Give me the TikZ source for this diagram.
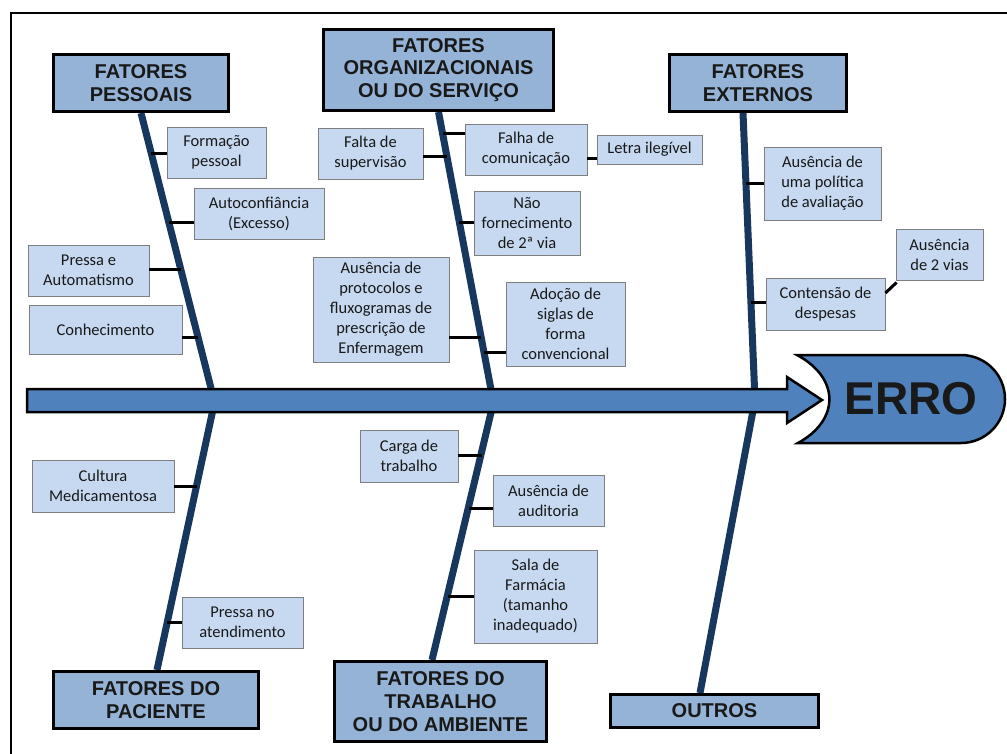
\documentclass[tikz,border=0pt]{standalone}
\usepackage{fontspec}
\newfontfamily\boxfont{Carlito}
\newfontfamily\hdrfont{Liberation Sans}
\usetikzlibrary{calc}
\definecolor{hdrblue}{HTML}{95B3D7}
\definecolor{boxblue}{HTML}{C6D9F1}
\definecolor{spineblue}{HTML}{4F81BD}
\definecolor{bonenavy}{HTML}{17375E}
\definecolor{boxgray}{HTML}{7F7F7F}
\begin{document}
\begin{tikzpicture}[x=1pt,y=-1pt,
 hdr/.style={draw=black, line width=3.5pt, fill=hdrblue, inner sep=0pt, align=center, text=black!90,
   font=\hdrfont\bfseries\fontsize{20}{22.7}\selectfont},
 cause/.style={draw=boxgray, line width=0.9pt, fill=boxblue, inner sep=0pt, align=center, text=black!90,
   font=\boxfont\fontsize{16.5}{20}\selectfont},
 sz/.style 2 args={minimum width=#1pt, minimum height=#2pt},
 bone/.style={draw=bonenavy, line width=7pt},
 rib/.style={draw=black, line width=3pt},
 spine/.style={draw=black, line width=2.5pt, fill=spineblue, line join=miter}]
\useasboundingbox (0,0) rectangle (1007,753);
% outer frame
\draw[line width=2.7pt] (11,760) -- (11,13) -- (1010,13);

% bone coordinates
\coordinate (pb1) at (141,113);  \coordinate (pb2) at (214,400);
\coordinate (ob1) at (438.5,112); \coordinate (ob2) at (493,400);
\coordinate (eb1) at (743,113);  \coordinate (eb2) at (755,400);
\coordinate (pab1) at (215,400); \coordinate (pab2) at (157,670);
\coordinate (tb1) at (494,400);  \coordinate (tb2) at (432,660);
\coordinate (outb1) at (755,400); \coordinate (outb2) at (700,693);

\draw[bone] (pb1) -- (pb2);
\draw[bone] (ob1) -- (ob2);
\draw[bone] (eb1) -- (eb2);
\draw[bone] (pab1) -- (pab2);
\draw[bone] (tb1) -- (tb2);
\draw[bone] (outb1) -- (outb2);

% rib points on bones
\coordinate (r1) at (151.3,153);
\coordinate (r2) at (169,222);
\coordinate (r3) at (181,269);
\coordinate (r4) at (198.4,337);
\coordinate (r5) at (442.5,133);
\coordinate (r6) at (446.8,156);
\coordinate (r7) at (459.3,222);
\coordinate (r8) at (481,337);
\coordinate (r9) at (484,352);
\coordinate (r10) at (746,183);
\coordinate (r11) at (751.2,302);
\coordinate (r12) at (196.8,486);
\coordinate (r13) at (167,622);
\coordinate (r14) at (481.6,455);
\coordinate (r15) at (468.8,508);
\coordinate (r16) at (447.5,596);
\coordinate (r17) at (587,158);

% cause boxes
\node[cause, sz={99}{51}]  (fp) at (216.5,152.5) {Formação\\pessoal};
\node[cause, sz={130}{51}] (ac) at (259,213.5) {Autoconfiância\\(Excesso)};
\node[cause, sz={121}{51}] (pa) at (88.5,270.5) {Pressa e\\Automatismo};
\node[cause, sz={153}{49}] (co) at (105.5,329.5) {Conhecimento};
\node[cause, sz={105}{51}] (fs) at (370.5,153.5) {Falta de\\supervisão};
\node[cause, sz={122}{51}] (fc) at (526,149.5) {Falha de\\comunicação};
\node[cause, sz={105}{29}] (li) at (649.5,149.5) {Letra ilegível};
\node[cause, sz={106}{64}] (nf) at (527,223) {Não\\fornecimento\\de 2ª via};
\node[cause, sz={136}{105}] (ap) at (381,309.5) {Ausência de\\protocolos e\\fluxogramas de\\prescrição de\\Enfermagem};
\node[cause, sz={119}{84}] (as) at (565.5,324) {Adoção de\\siglas de\\forma\\convencional};
\node[cause, sz={117}{73}] (au) at (822.5,183.5) {Ausência de\\uma política\\de avaliação};
\node[cause, sz={119}{52}] (cd) at (825.5,304) {Contensão de\\despesas};
\node[cause, sz={87}{51}]  (a2) at (939.5,254.5) {Ausência\\de 2 vias};
\node[cause, sz={142}{52}] (cm) at (103,486) {Cultura\\Medicamentosa};
\node[cause, sz={121}{51}] (pn) at (242.5,622.5) {Pressa no\\atendimento};
\node[cause, sz={98}{52}]  (ct) at (409,456) {Carga de\\trabalho};
\node[cause, sz={111}{51}] (aa) at (548.5,500.5) {Ausência de\\auditoria};
\node[cause, sz={123}{93}] (sf) at (535.5,596.5) {Sala de\\Farmácia\\(tamanho\\inadequado)};

% ribs
\draw[rib] (r1) -- (r1 -| fp.west);
\draw[rib] (r2) -- (r2 -| ac.west);
\draw[rib] (r3) -- (r3 -| pa.east);
\draw[rib] (r4) -- (r4 -| co.east);
\draw[rib] (r5) -- (r5 -| fc.west);
\draw[rib] (r6) -- (r6 -| fs.east);
\draw[rib] (r7) -- (r7 -| nf.west);
\draw[rib] (r8) -- (r8 -| ap.east);
\draw[rib] (r9) -- (r9 -| as.west);
\draw[rib] (r10) -- (r10 -| au.west);
\draw[rib] (r11) -- (r11 -| cd.west);
\draw[rib] (r12) -- (r12 -| cm.east);
\draw[rib] (r13) -- (r13 -| pn.west);
\draw[rib] (r14) -- (r14 -| ct.east);
\draw[rib] (r15) -- (r15 -| aa.west);
\draw[rib] (r16) -- (r16 -| sf.west);
\draw[rib] (r17 -| fc.east) -- (r17 -| li.west);
\draw[rib] ($(cd.east)+(0,-11)$) -- ($(a2.south west)+(1,2)$);

% headers
\node[hdr, sz={175}{57}] (hp) at (141,83) {FATORES\\PESSOAIS};
\node[hdr, sz={230}{81}] (ho) at (438.5,70) {FATORES\\ORGANIZACIONAIS\\OU DO SERVIÇO};
\node[hdr, sz={177}{57}] (he) at (758,83) {FATORES\\EXTERNOS};
\node[hdr, sz={205}{57}] (hpa) at (156,700) {FATORES DO\\PACIENTE};
\node[hdr, sz={212}{80}] (ht) at (440.5,701.5) {FATORES DO\\TRABALHO\\OU DO AMBIENTE};
\node[hdr, sz={208}{33}] (hout) at (714.5,711) {OUTROS};

% spine arrow
\draw[spine] (27,389) -- (787,389) -- (787,377) -- (822,400) -- (787,423) -- (787,412) -- (27,412) -- cycle;

% ERRO effect shape
\draw[spine] (797,355) -- (961,355) arc[start angle=-90, end angle=90, radius=44]
  -- (798,443) .. controls (840,420) and (840,378) .. (797,355) -- cycle;
\node[font=\hdrfont\bfseries\fontsize{46}{50}\selectfont, text=black!90] (erro) at (911,399) {ERRO};
\end{tikzpicture}
\end{document}
